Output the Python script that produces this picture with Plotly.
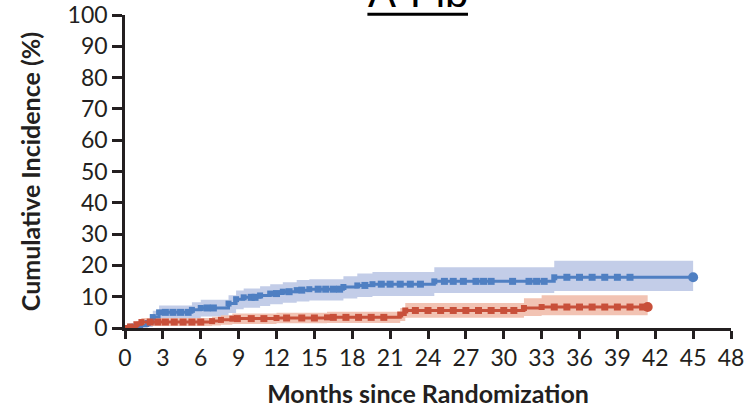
import plotly.graph_objects as go

# ---- data ----
x_ticks = [0, 3, 6, 9, 12, 15, 18, 21, 24, 27, 30, 33, 36, 39, 42, 45, 48]
y_ticks = [0, 10, 20, 30, 40, 50, 60, 70, 80, 90, 100]

blue_t = [0, 0.5, 1.2, 1.8, 2.2, 2.7, 5.3, 6.0, 8.2, 8.8, 9.4, 10.7, 11.5, 12.5,
          13.6, 14.6, 17.3, 18.4, 19.6, 24.5, 34.0, 45.0]
blue_v = [0, 0.4, 0.8, 1.6, 3.5, 5.0, 5.8, 6.4, 7.8, 9.2, 9.8, 10.4, 11.0, 11.6,
          12.1, 12.4, 13.1, 13.6, 14.0, 14.9, 16.2, 16.2]
blue_lo = [0, 0, 0, 0.3, 1.6, 2.6, 3.2, 3.7, 4.8, 6.0, 6.5, 7.0, 7.6, 8.1,
           8.5, 8.8, 9.4, 9.9, 10.2, 11.2, 11.8, 11.8]
blue_hi = [0, 1.5, 2.2, 3.2, 5.5, 7.2, 8.2, 9.0, 10.5, 12.0, 12.6, 13.3, 14.0, 14.6,
           15.3, 15.6, 16.5, 17.4, 17.9, 19.4, 21.5, 21.5]
blue_cens_t = [3.2, 3.8, 4.4, 5.0, 6.5, 7.0, 10.0, 10.3, 12.0, 13.0, 14.0, 15.3, 15.9, 16.5,
               17.0, 19.0, 20.3, 21.0, 21.8, 22.6, 23.4, 25.3, 26.0, 26.8, 27.8, 28.4,
               29.0, 30.7, 32.0, 32.6, 33.2, 35.0, 36.0, 37.0, 38.0, 39.0, 40.0]
blue_cens_v = [5.0, 5.0, 5.0, 5.0, 6.4, 6.4, 9.8, 9.8, 11.0, 11.6, 12.1, 12.4, 12.4, 12.4,
               12.4, 13.6, 14.0, 14.0, 14.0, 14.0, 14.0, 14.9, 14.9, 14.9, 14.9, 14.9,
               14.9, 14.9, 14.9, 14.9, 14.9, 16.2, 16.2, 16.2, 16.2, 16.2, 16.2]

red_t = [0, 0.4, 0.9, 1.3, 6.9, 7.6, 8.5, 12.0, 16.0, 21.8, 22.2, 31.6, 33.0, 41.4]
red_v = [0, 0.5, 1.2, 1.9, 2.2, 2.6, 3.0, 3.2, 3.4, 4.3, 5.6, 6.4, 6.7, 6.7]
red_lo = [0, 0, 0.2, 0.6, 0.8, 1.0, 1.3, 1.5, 1.6, 2.2, 3.3, 3.8, 4.1, 4.1]
red_hi = [0, 1.2, 2.2, 3.2, 3.6, 4.1, 4.6, 4.9, 5.2, 6.4, 8.0, 9.5, 10.5, 10.5]
red_cens_t = [2.0, 2.6, 3.2, 3.9, 4.6, 5.3, 6.0, 8.9, 10.0, 11.0, 12.8, 14.0, 15.0, 16.5,
              17.5, 18.5, 19.5, 20.5, 23.0, 24.0, 25.0, 26.0, 27.0, 28.0, 29.0, 30.0,
              30.8, 34.0, 35.0, 36.0, 37.0, 38.0, 39.0, 40.0, 41.0]
red_cens_v = [1.9, 1.9, 1.9, 1.9, 1.9, 1.9, 1.9, 3.0, 3.0, 3.0, 3.2, 3.2, 3.2, 3.4,
              3.4, 3.4, 3.4, 3.4, 5.6, 5.6, 5.6, 5.6, 5.6, 5.6, 5.6, 5.6,
              5.6, 6.7, 6.7, 6.7, 6.7, 6.7, 6.7, 6.7, 6.7]

BLUE = "#4f7fc2"
BLUE_BAND = "#c3cde8"
RED = "#c8503a"
RED_BAND = "#f2c3b3"
INK = "#231f20"
FONT = "Lato"

fig = go.Figure()


def add_band(t, lo, hi, color):
    fig.add_trace(go.Scatter(x=t, y=lo, mode="lines", line=dict(width=0, shape="hv"),
                             hoverinfo="skip", showlegend=False))
    fig.add_trace(go.Scatter(x=t, y=hi, mode="lines", line=dict(width=0, shape="hv"),
                             fill="tonexty", fillcolor=color, hoverinfo="skip",
                             showlegend=False))


def add_curve(t, v, ct, cv, color):
    fig.add_trace(go.Scatter(x=t, y=v, mode="lines+markers",
                             line=dict(color=color, width=3, shape="hv"),
                             marker=dict(color=color, size=6, symbol="square"),
                             cliponaxis=False, showlegend=False))
    fig.add_trace(go.Scatter(x=ct, y=cv, mode="markers",
                             marker=dict(color=color, size=7, symbol="square"),
                             cliponaxis=False, showlegend=False))
    fig.add_trace(go.Scatter(x=[t[-1]], y=[v[-1]], mode="markers",
                             marker=dict(color=color, size=10, symbol="circle"),
                             cliponaxis=False, showlegend=False))


add_band(blue_t, blue_lo, blue_hi, BLUE_BAND)
add_band(red_t, red_lo, red_hi, RED_BAND)
add_curve(blue_t, blue_v, blue_cens_t, blue_cens_v, BLUE)
add_curve(red_t, red_v, red_cens_t, red_cens_v, RED)

axis_common = dict(showline=True, linecolor=INK, linewidth=2.5, ticks="outside",
                   tickcolor=INK, tickwidth=2.5, showgrid=False, zeroline=False,
                   automargin=False,
                   tickfont=dict(family=FONT, size=23, color=INK))

fig.update_xaxes(range=[0, 48], tickvals=x_ticks, ticklen=8,
                 title=dict(text="<b>Months since Randomization</b>",
                            font=dict(family=FONT, size=25, color=INK), standoff=16),
                 **axis_common)
fig.update_yaxes(range=[0, 100], tickvals=y_ticks, ticklen=10,
                 title=dict(text="<b>Cumulative Incidence (%)</b>",
                            font=dict(family=FONT, size=25, color=INK), standoff=20),
                 **axis_common)

fig.add_annotation(text="A-Fib", xref="paper", yref="paper", x=0.483, y=1.0,
                   xanchor="center", yanchor="bottom", yshift=-3, showarrow=False,
                   font=dict(family="Liberation Sans", size=42, color="black"))
fig.add_shape(type="line", xref="paper", yref="paper", x0=0.400, x1=0.566,
              y0=1.002, y1=1.002, line=dict(color="black", width=3))

fig.update_layout(width=751, height=414, margin=dict(l=125, r=20, t=15, b=86,
                                                     autoexpand=False),
                  plot_bgcolor="white", paper_bgcolor="white")

fig.write_html("out.html", config={"displayModeBar": False},
               post_script="document.body.style.margin='0';"
                           "document.body.style.overflow='hidden';")
